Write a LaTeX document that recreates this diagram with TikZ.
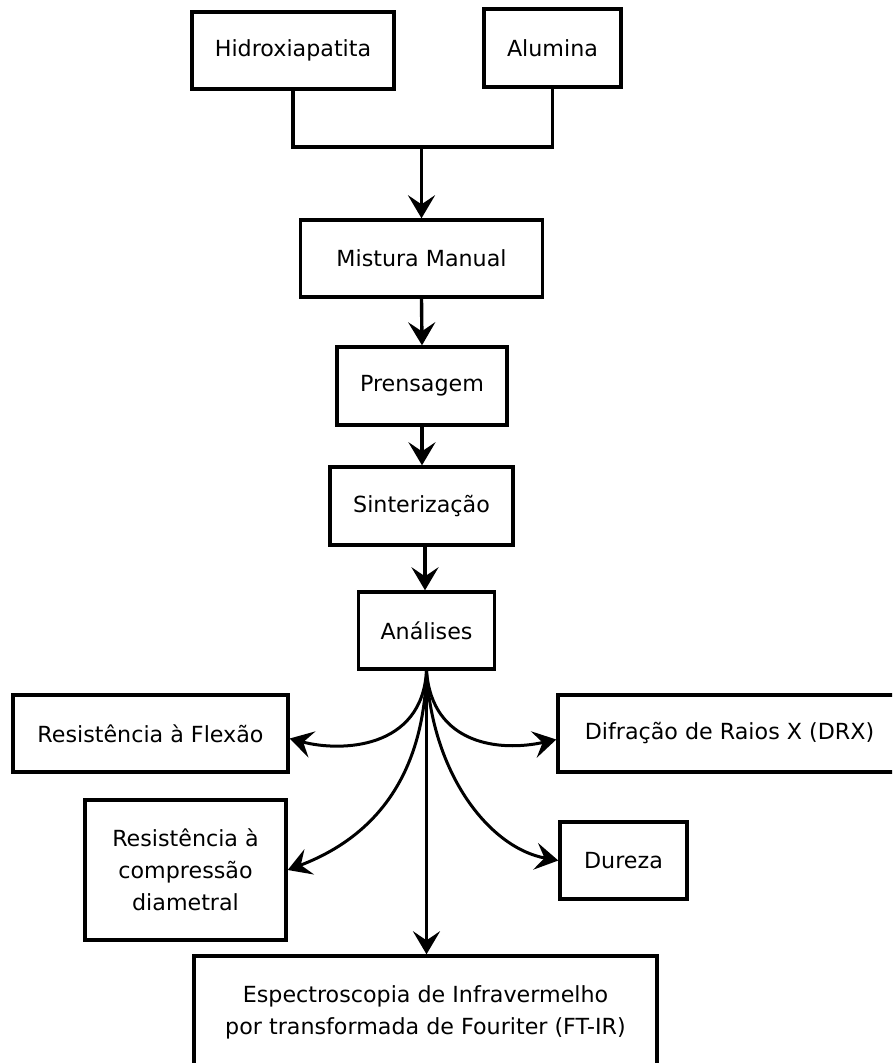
\documentclass[tikz,border=0pt]{standalone}
\usepackage{fontspec}
\setmainfont{DejaVu Sans}
\usetikzlibrary{arrows.meta}
\begin{document}
\begin{tikzpicture}[x=1pt,y=-1pt,
  box/.style={draw=black, line width=3.4pt, fill=white, inner sep=0pt, align=center,
    font=\fontsize{22.2}{32}\selectfont},
  conn/.style={line width=3.4pt, draw=black},
  arr/.style={conn, -{Stealth[length=23pt, width=27pt, inset=9pt]}},
  curv/.style={line width=3pt, draw=black, -{Stealth[length=23pt, width=27pt, inset=9pt]}}]
\useasboundingbox (0,0) rectangle (892,1063);
\clip (0,0) rectangle (892,1063);
\fill[white] (0,0) rectangle (892,1063);
% nodes
\node[box, minimum width=202pt, minimum height=77pt] (hid) at (293,50.5) {Hidroxiapatita};
\node[box, minimum width=137pt, minimum height=78pt] (alu) at (552.5,48) {Alumina};
\node[box, minimum width=242pt, minimum height=77pt] (mis) at (421.5,258.5) {Mistura Manual};
\node[box, minimum width=170pt, minimum height=78pt] (pre) at (422,386) {Prensagem};
\node[box, minimum width=183pt, minimum height=78pt] (sin) at (421.5,506) {Sinterização};
\node[box, minimum width=136pt, minimum height=77pt] (ana) at (426.5,630.5) {Análises};
\node[box, minimum width=275pt, minimum height=77pt] (flex) at (150.5,733.5) {Resistência à Flexão};
\node[box, minimum width=343pt, minimum height=77pt] (drx) at (729.5,733.5) {Difração de Raios X (DRX)};
\node[box, minimum width=201pt, minimum height=140pt] (comp) at (185.5,870) {Resistência à\\compressão\\diametral};
\node[box, minimum width=127pt, minimum height=77pt] (dur) at (623.5,860.5) {Dureza};
\node[box, minimum width=463pt, minimum height=112pt] (esp) at (425.5,1012) {Espectroscopia de Infravermelho\\por transformada de Fouriter (FT-IR)};
% connectors
\coordinate (j) at (421.5,147);
\draw[conn] (hid.south) |- (j) -| (alu.south);
\draw[arr] (j) -- (mis.north);
\draw[arr] (mis.south) -- (pre.north);
\draw[arr] (pre.south) -- (pre.south |- sin.north);
\draw[arr] ([xshift=3.5pt]sin.south) -- ([xshift=3.5pt]sin.south |- ana.north);
\draw[arr] (ana.south) -- (ana.south |- esp.north);
\draw[curv] (ana.south) .. controls (422,750) and (340,752) .. ([yshift=-5pt]flex.east);
\draw[curv] (ana.south) .. controls (424,770) and (380,835) .. (comp.east);
\draw[curv] (ana.south) .. controls (432,745) and (500,752) .. ([yshift=-6pt]drx.west);
\draw[curv] (ana.south) .. controls (432,775) and (490,848) .. (dur.west);
\end{tikzpicture}
\end{document}
